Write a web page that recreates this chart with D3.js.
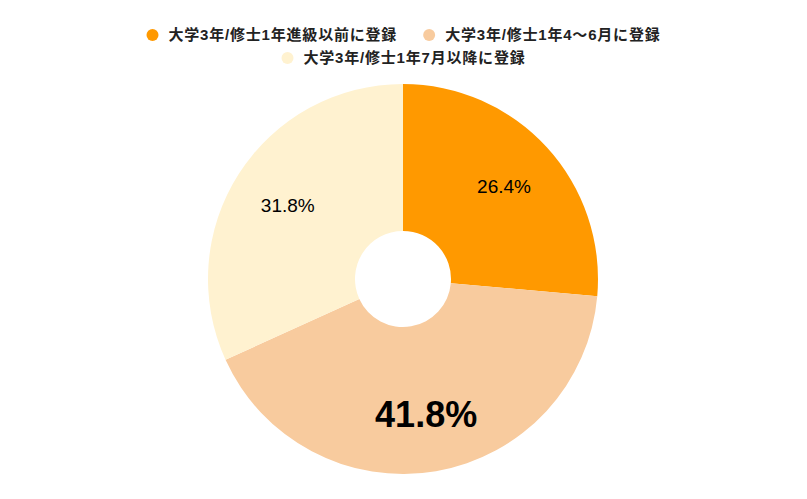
<!DOCTYPE html>
<html>
<head>
<meta charset="utf-8">
<script src="https://cdn.jsdelivr.net/npm/d3@7"></script>
<style>
  body { margin: 0; background: #fff; }
  svg { display: block; font-family: "Liberation Sans", Arial, "Noto Sans CJK JP", sans-serif; }
</style>
</head>
<body>
<svg class="chart" width="807" height="499"></svg>
<script>
// data
var categories = ["大学3年/修士1年進級以前に登録", "大学3年/修士1年4～6月に登録", "大学3年/修士1年7月以降に登録"];
var values = [26.4, 41.8, 31.8];
var labels = ["26.4%", "41.8%", "31.8%"];
var colors = ["#ff9900", "#f8cb9e", "#fff2d0"];

var svg = d3.select("svg.chart");
var cx = 403, cy = 279;
var outerR = 195, innerR = 48, labelR = 137;

var pie = d3.pie().sort(null).value(function(d) { return d; });
var arcs = pie(values);
var arc = d3.arc().innerRadius(innerR).outerRadius(outerR);
var labelArc = d3.arc().innerRadius(labelR).outerRadius(labelR);

var g = svg.append("g").attr("transform", "translate(" + cx + "," + cy + ")");

g.selectAll("path.slice")
  .data(arcs)
  .enter().append("path")
  .attr("class", "slice")
  .attr("d", arc)
  .attr("fill", function(d, i) { return colors[i]; });

// the biggest slice gets a big bold label
var maxV = d3.max(values);
g.selectAll("text.lbl")
  .data(arcs)
  .enter().append("text")
  .attr("class", "lbl")
  .attr("transform", function(d) { return "translate(" + labelArc.centroid(d) + ")"; })
  .attr("text-anchor", "middle")
  .attr("dy", "0.36em")
  .style("font-size", function(d) { return d.data === maxV ? "36px" : "19px"; })
  .style("font-weight", function(d) { return d.data === maxV ? "bold" : "normal"; })
  .attr("fill", "#000")
  .text(function(d, i) { return labels[i]; });

// legend: two rows, centred
var legendRows = [[0, 1], [2]];
var rowY = [35, 58];
var gap = 26;
var legend = svg.append("g");
legendRows.forEach(function(row, r) {
  var rowG = legend.append("g");
  var x = 0;
  row.forEach(function(idx) {
    var item = rowG.append("g").attr("transform", "translate(" + x + ",0)");
    item.append("circle").attr("cx", 6).attr("cy", 0).attr("r", 6).attr("fill", colors[idx]);
    var t = item.append("text")
      .attr("x", 22)
      .attr("dy", "0.36em")
      .style("font-size", "15px")
      .style("font-weight", "bold")
      .style("letter-spacing", "0.8px")
      .attr("fill", "#222")
      .text(categories[idx]);
    x += 22 + t.node().getComputedTextLength() + gap;
  });
  var w = x - gap;
  rowG.attr("transform", "translate(" + (807 / 2 - w / 2) + "," + rowY[r] + ")");
});
</script>
</body>
</html>
